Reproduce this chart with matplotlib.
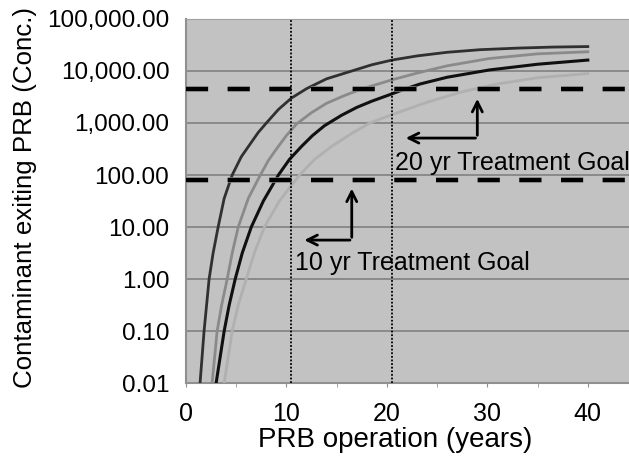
import numpy as np
import matplotlib
matplotlib.use('Agg')
import matplotlib.pyplot as plt
from matplotlib.ticker import FuncFormatter, FixedLocator

plt.rcParams['font.family'] = ['Liberation Sans', 'DejaVu Sans']
plt.rcParams['font.size'] = 17

# curves: years vs log10(concentration)
yrs_a = [1.4, 1.8, 2.3, 2.7, 3.2, 3.8, 4.6, 5.5, 6.4, 7.2, 8.0, 9.2, 10.5, 12.0,
         14.0, 16.5, 18.5, 20.5, 23.0, 26.0, 29.3, 33.0, 36.5, 40]
log_a = [-2, -1, 0, 0.5, 1, 1.55, 2, 2.35, 2.6, 2.82, 3.0, 3.26, 3.48, 3.66,
         3.85, 4.0, 4.12, 4.21, 4.29, 4.36, 4.41, 4.44, 4.46, 4.47]

yrs_b = [2.6, 3.1, 3.55, 4.1, 4.6, 5.2, 6.2, 7.4, 8.2, 9.0, 10.0, 11.0, 12.5,
         14.0, 15.8, 17.6, 20.5, 23.0, 26.0, 30.2, 35.0, 40]
log_b = [-2, -1, -0.5, 0, 0.5, 1, 1.55, 2, 2.28, 2.5, 2.76, 2.98, 3.2,
         3.38, 3.53, 3.66, 3.83, 3.96, 4.1, 4.24, 4.33, 4.37]

yrs_c = [3.0, 3.4, 3.8, 4.3, 4.9, 5.6, 6.5, 7.7, 9.2, 10.3, 11.5, 12.6, 13.8,
         15.5, 17.0, 18.5, 20.5, 21.6, 23.3, 26.0, 30.2, 35.0, 40]
log_c = [-2, -1.5, -1, -0.5, 0, 0.5, 1, 1.5, 2, 2.3, 2.55, 2.76, 2.95,
         3.15, 3.3, 3.42, 3.56, 3.64, 3.75, 3.88, 4.02, 4.13, 4.21]

yrs_d = [3.8, 4.2, 4.6, 5.2, 6.0, 6.8, 7.8, 9.3, 11.3, 12.8, 14.5, 16.5,
         18.3, 20.5, 24.0, 27.5, 31.0, 35.0, 40]
log_d = [-2, -1.5, -1, -0.5, 0, 0.5, 1, 1.5, 2, 2.3, 2.55, 2.8,
         3.0, 3.16, 3.4, 3.6, 3.75, 3.87, 3.95]

goal_10yr = 80
goal_20yr = 4500
marker_years = [10.5, 20.5]

y_ticks = [0.01, 0.1, 1, 10, 100, 1000, 10000, 100000]
x_ticks = [0, 10, 20, 30, 40]

fig = plt.figure(figsize=(6.29, 4.62), dpi=100)
ax = fig.add_axes([186 / 629, 1 - 383 / 462, 1 - 186 / 629, (383 - 19) / 462])
ax.set_facecolor('#c2c2c2')

ax.set_yscale('log')
ax.set_ylim(0.01, 100000)
ax.set_xlim(0, 44.1)

for yv in y_ticks[1:-1]:
    ax.axhline(yv, color='#808080', lw=1.2, zorder=1)

ax.plot(yrs_d, 10 ** np.array(log_d), color='#b0b0b0', lw=2, zorder=3)
ax.plot(yrs_b, 10 ** np.array(log_b), color='#8a8a8a', lw=2, zorder=3)
ax.plot(yrs_c, 10 ** np.array(log_c), color='#101010', lw=2.2, zorder=3)
ax.plot(yrs_a, 10 ** np.array(log_a), color='#303030', lw=2, zorder=3)

for g in [goal_10yr, goal_20yr]:
    ax.axhline(g, color='#8a8a8a', lw=4.0, dashes=(4, 3.5), zorder=4)
    ax.axhline(g, color='black', lw=3.0, dashes=(5.3, 4.7), zorder=4)

for xm in marker_years:
    ax.axvline(xm, color='black', lw=1.3, ls=(0, (1, 1)), zorder=5)

# arrows pointing at the goals
arr = dict(arrowstyle='->', color='black', lw=2, mutation_scale=18)
ax.annotate('', xy=(29.0, 3300), xytext=(29.0, 513), arrowprops=arr, zorder=6)
ax.annotate('', xy=(21.6, 513), xytext=(29.1, 513), arrowprops=arr, zorder=6)
ax.annotate('', xy=(16.5, 62), xytext=(16.5, 5.6), arrowprops=arr, zorder=6)
ax.annotate('', xy=(11.5, 5.6), xytext=(16.6, 5.6), arrowprops=arr, zorder=6)

ax.text(20.8, 10 ** 2.1, '20 yr Treatment Goal', fontsize=18, va='baseline', zorder=7)
ax.text(10.9, 10 ** 0.17, '10 yr Treatment Goal', fontsize=18, va='baseline', zorder=7)

ax.yaxis.set_major_locator(FixedLocator(y_ticks))
ax.yaxis.set_minor_locator(FixedLocator([]))
ax.yaxis.set_major_formatter(FuncFormatter(lambda v, p: f'{v:,.2f}'))
ax.tick_params(axis='y', length=0, pad=12, labelsize=17.5)

ax.set_xticks(x_ticks)
ax.set_xticks(np.arange(5, 45, 10), minor=True)
ax.tick_params(axis='x', which='both', direction='out', length=3, color='#909090', pad=11, labelsize=18)
ax.tick_params(axis='x', which='minor', labelbottom=False)

ax.spines['right'].set_visible(False)
ax.spines['top'].set_color('#a0a0a0')
ax.spines['left'].set_color('#909090')
ax.spines['bottom'].set_color('#909090')
ax.spines['left'].set_linewidth(1.5)
ax.spines['bottom'].set_linewidth(1.5)

ax.set_xlabel('PRB operation (years)', fontsize=20)
ax.xaxis.set_label_coords((395 - 186) / 443, -0.12)
fig.text(25 / 629, 1 - 198 / 462, 'Contaminant exiting PRB (Conc.)', fontsize=18.6,
         rotation=90, ha='center', va='center')

fig.savefig('out.png', dpi=100)
